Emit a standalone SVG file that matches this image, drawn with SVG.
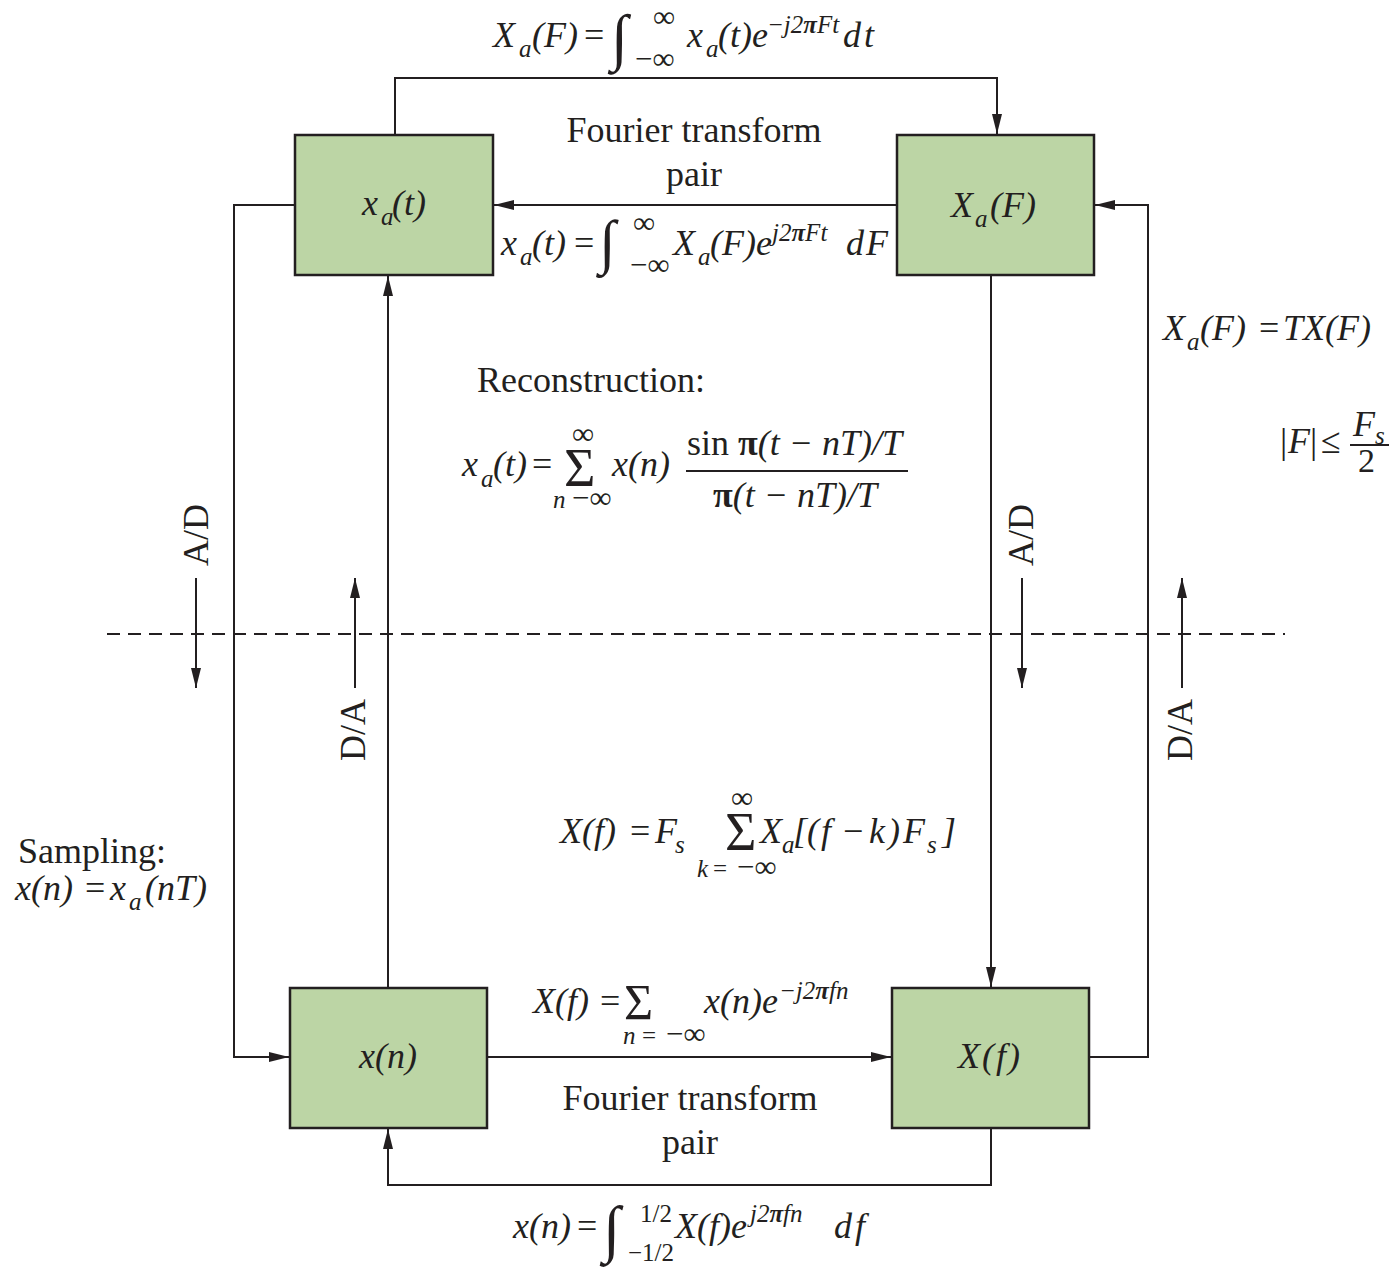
<svg xmlns="http://www.w3.org/2000/svg" width="1392" height="1267" viewBox="0 0 1392 1267">
<defs>
<style>
.bg{fill:#ffffff}
.box{fill:#bcd5a5;stroke:#231f20;stroke-width:2.5}
.ln{fill:none;stroke:#231f20;stroke-width:2}
.dash{fill:none;stroke:#231f20;stroke-width:2;stroke-dasharray:13 8}
text{font-family:"Liberation Serif","Times New Roman",serif;fill:#231f20}
.rm{font-size:36px}
.m{font-size:36px;font-style:italic}
.s{font-size:25px}
.inf{font-size:31px;font-style:normal}
.r{font-style:normal}
.pi{font-weight:bold}
</style>
<marker id="ah" viewBox="0 0 20 10" refX="20" refY="5" markerWidth="20" markerHeight="10" orient="auto" markerUnits="userSpaceOnUse">
<path d="M0,0 L20,5 L0,10 z" fill="#231f20"/>
</marker>
</defs>
<rect class="bg" x="0" y="0" width="1392" height="1267"/>

<g id="connectors">
<path class="ln" d="M395,135 V78 H997 V134" marker-end="url(#ah)"/>
<path class="ln" d="M897,205 H494" marker-end="url(#ah)"/>
<path class="ln" d="M295,205 H234 V1057 H289" marker-end="url(#ah)"/>
<path class="ln" d="M388,988 V276" marker-end="url(#ah)"/>
<path class="ln" d="M991,275 V987" marker-end="url(#ah)"/>
<path class="ln" d="M487,1057 H891" marker-end="url(#ah)"/>
<path class="ln" d="M1089,1057 H1148 V205 H1095" marker-end="url(#ah)"/>
<path class="ln" d="M991,1128 V1185 H388 V1129" marker-end="url(#ah)"/>
<path class="ln" d="M196,578 V688" marker-end="url(#ah)"/>
<path class="ln" d="M355,688 V578" marker-end="url(#ah)"/>
<path class="ln" d="M1022,578 V688" marker-end="url(#ah)"/>
<path class="ln" d="M1182,688 V578" marker-end="url(#ah)"/>
<path class="dash" d="M107,634 H1285"/>
</g>

<g id="node-xa-t">
<rect class="box" x="295" y="135" width="198" height="140"/>
<text class="m"><tspan x="362" y="215">x</tspan><tspan class="s" x="381" y="225">a</tspan><tspan x="392" y="215">(t)</tspan></text>
</g>
<g id="node-Xa-F">
<rect class="box" x="897" y="135" width="197" height="140"/>
<text class="m"><tspan x="951" y="217">X</tspan><tspan class="s" x="975" y="227">a</tspan><tspan x="990" y="217">(F)</tspan></text>
</g>
<g id="node-x-n">
<rect class="box" x="290" y="988" width="197" height="140"/>
<text class="m" x="388" y="1068" text-anchor="middle">x(n)</text>
</g>
<g id="node-X-f">
<rect class="box" x="892" y="988" width="197" height="140"/>
<text class="m" x="990" y="1068" text-anchor="middle" letter-spacing="2">X(f)</text>
</g>

<g id="labels">
<text class="rm" x="694" y="142" text-anchor="middle">Fourier transform</text>
<text class="rm" x="694" y="186" text-anchor="middle">pair</text>
<text class="rm" x="690" y="1110" text-anchor="middle">Fourier transform</text>
<text class="rm" x="690" y="1154" text-anchor="middle">pair</text>

<text class="rm" transform="translate(208,535) rotate(-90)" text-anchor="middle">A/D</text>
<text class="rm" transform="translate(365,730) rotate(-90)" text-anchor="middle">D/A</text>
<text class="rm" transform="translate(1033,535) rotate(-90)" text-anchor="middle">A/D</text>
<text class="rm" transform="translate(1192,730) rotate(-90)" text-anchor="middle">D/A</text>

<!-- top formula -->
<text class="m"><tspan x="493" y="47">X</tspan><tspan class="s" x="519" y="57">a</tspan><tspan x="532" y="47">(F)</tspan><tspan class="r" x="584" y="47">=</tspan><tspan class="r" x="611" y="58" font-size="62">∫</tspan><tspan class="inf" x="653" y="27">∞</tspan><tspan class="inf" x="635" y="69">−∞</tspan><tspan x="687" y="47">x</tspan><tspan class="s" x="706" y="57">a</tspan><tspan x="718" y="47">(t)e</tspan><tspan class="s" x="767" y="33">−j2<tspan class="pi">π</tspan>Ft</tspan><tspan x="843" y="47" letter-spacing="3">dt</tspan></text>

<!-- second formula -->
<text class="m"><tspan x="501" y="255">x</tspan><tspan class="s" x="520" y="265">a</tspan><tspan x="532" y="255">(t)</tspan><tspan class="r" x="574" y="255">=</tspan><tspan class="r" x="599" y="262" font-size="60">∫</tspan><tspan class="inf" x="633" y="233">∞</tspan><tspan class="inf" x="630" y="275">−∞</tspan><tspan x="673" y="255">X</tspan><tspan class="s" x="698" y="265">a</tspan><tspan x="710" y="255">(F)e</tspan><tspan class="s" x="772" y="241">j2<tspan class="pi">π</tspan>Ft</tspan><tspan x="846" y="255" letter-spacing="2">dF</tspan></text>

<!-- reconstruction -->
<text class="rm" x="477" y="392">Reconstruction:</text>
<text class="m"><tspan x="462" y="476">x</tspan><tspan class="s" x="481" y="487">a</tspan><tspan x="493" y="476">(t)</tspan><tspan class="r" x="532" y="476">=</tspan><tspan class="r" x="564" y="486" font-size="54">Σ</tspan><tspan class="inf" x="572" y="444">∞</tspan><tspan class="s" x="553" y="508">n</tspan><tspan class="inf" x="572" y="508" font-size="28">−∞</tspan><tspan x="612" y="476">x(n)</tspan></text>
<text class="m" x="687" y="455"><tspan class="r">sin </tspan><tspan class="pi r">π</tspan>(t − nT)/T</text>
<path class="ln" d="M686,471 H908"/>
<text class="m" x="713" y="507"><tspan class="pi r">π</tspan>(t − nT)/T</text>

<!-- right formula -->
<text class="m"><tspan x="1163" y="340">X</tspan><tspan class="s" x="1187" y="350">a</tspan><tspan x="1200" y="340">(F)</tspan><tspan class="r" x="1259" y="340">=</tspan><tspan x="1283" y="340">TX(F)</tspan></text>
<text class="m"><tspan class="r" x="1280" y="453">|</tspan><tspan x="1288" y="453">F</tspan><tspan class="r" x="1310" y="453">|</tspan><tspan class="r" x="1321" y="453">≤</tspan><tspan x="1353" y="436">F</tspan><tspan class="s" x="1375" y="444">s</tspan><tspan class="r" x="1358" y="472" font-size="34">2</tspan></text>
<path class="ln" d="M1350,445 H1389"/>

<!-- X(f) = Fs sum -->
<text class="m"><tspan x="560" y="843">X(f)</tspan><tspan class="r" x="630" y="843">=</tspan><tspan x="655" y="843">F</tspan><tspan class="s" x="675" y="853">s</tspan><tspan class="r" x="725" y="850" font-size="54">Σ</tspan><tspan class="inf" x="731" y="808">∞</tspan><tspan class="s" x="697" y="877">k</tspan><tspan class="s r" x="713" y="877">= </tspan><tspan class="inf" x="737" y="877" font-size="28">−∞</tspan><tspan x="760" y="843">X</tspan><tspan class="s" x="782" y="853">a</tspan><tspan x="793" y="843">[(</tspan><tspan x="821" y="843">f</tspan><tspan class="r" x="843" y="843">−</tspan><tspan x="869" y="843">k</tspan><tspan x="888" y="843">)</tspan><tspan x="903" y="843">F</tspan><tspan class="s" x="927" y="853">s</tspan><tspan x="942" y="843">]</tspan></text>

<!-- sampling -->
<text class="rm" x="18" y="863">Sampling:</text>
<text class="m"><tspan x="15" y="900">x(n)</tspan><tspan class="r" x="85" y="900">=</tspan><tspan x="110" y="900">x</tspan><tspan class="s" x="129" y="910">a</tspan><tspan x="145" y="900">(nT)</tspan></text>

<!-- X(f) = sum x(n) e -->
<text class="m"><tspan x="533" y="1013">X(f)</tspan><tspan class="r" x="600" y="1013">=</tspan><tspan class="r" x="624" y="1019" font-size="50">Σ</tspan><tspan class="s" x="623" y="1044">n</tspan><tspan class="s r" x="642" y="1044">= </tspan><tspan class="inf" x="666" y="1044" font-size="28">−∞</tspan><tspan x="704" y="1013">x(n)e</tspan><tspan class="s" x="779" y="999">−j2<tspan class="pi">π</tspan>fn</tspan></text>

<!-- bottom formula -->
<text class="m"><tspan x="513" y="1238">x(n)</tspan><tspan class="r" x="577" y="1238">=</tspan><tspan class="r" x="603" y="1250" font-size="63">∫</tspan><tspan class="s r" x="640" y="1222">1/2</tspan><tspan class="s r" x="628" y="1261">−1/2</tspan><tspan x="675" y="1238">X(f)e</tspan><tspan class="s" x="750" y="1222">j2<tspan class="pi">π</tspan>fn</tspan><tspan x="834" y="1238" letter-spacing="3">df</tspan></text>
</g>
</svg>
